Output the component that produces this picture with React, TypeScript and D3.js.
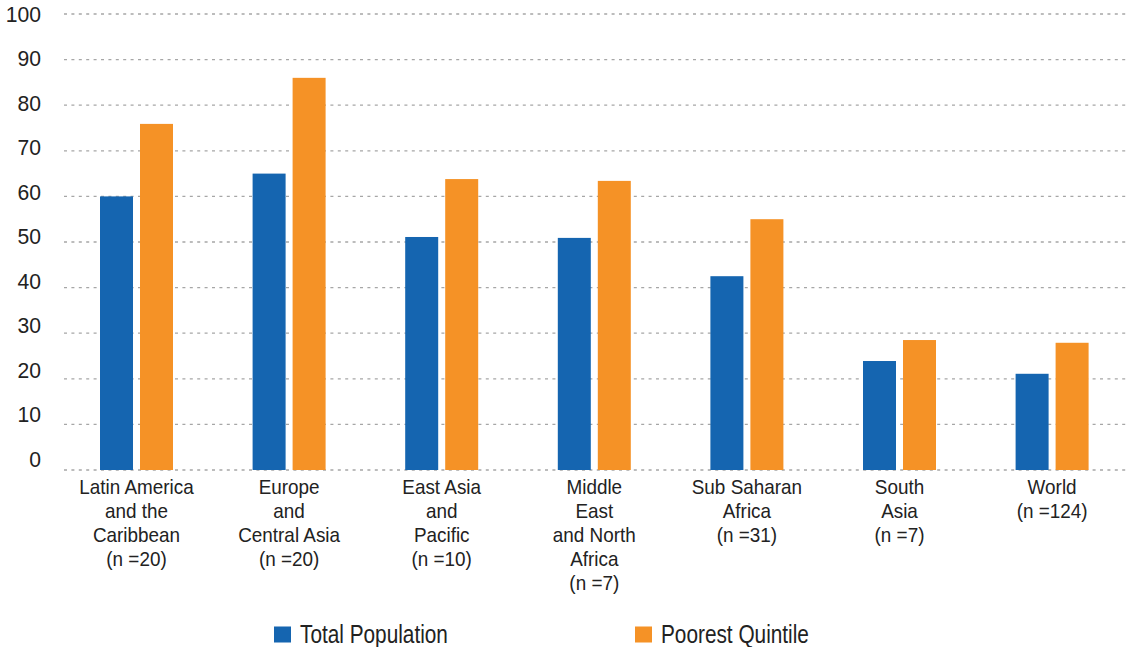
import React from "react";
import * as d3 from "d3";

// Regions with their multi-line axis labels
const categories = [
  "Latin America",
  "Europe",
  "East Asia",
  "Middle East",
  "Sub Saharan",
  "South Asia",
  "World",
];
const categoryLabels: string[][] = [
  ["Latin America", "and the", "Caribbean", "(n =20)"],
  ["Europe", "and", "Central Asia", "(n =20)"],
  ["East Asia", "and", "Pacific", "(n =10)"],
  ["Middle", "East", "and North", "Africa", "(n =7)"],
  ["Sub Saharan", "Africa", "(n =31)"],
  ["South", "Asia", "(n =7)"],
  ["World", "(n =124)"],
];

const seriesNames = ["Total Population", "Poorest Quintile"];
const totalPopulation = [60, 65, 51.1, 50.9, 42.5, 23.9, 21.1];
const poorestQuintile = [75.9, 86, 63.8, 63.4, 55, 28.5, 27.9];

const yTicks = [0, 10, 20, 30, 40, 50, 60, 70, 80, 90, 100];

const COLORS = ["#1565B0", "#F59226"];
const TEXT = "#222222";
const FONT = "'Liberation Sans', Arial, sans-serif";

const W = 1127;
const H = 647;

export default function App() {
  const y = d3.scaleLinear().domain([0, 100]).range([470, 14]);
  // tick labels sit on a slightly tighter spacing than the grid
  const yLabel = d3.scaleLinear().domain([0, 100]).range([458.5, 14]);

  const x0 = d3.scaleBand<string>().domain(categories).range([60.2, 1128.4]).padding(0);
  const x1 = d3.scaleBand<string>().domain(seriesNames).range([0, 73]).paddingInner(0.175);
  const groupOffset = (x0.bandwidth() - 73) / 2;

  const values = [totalPopulation, poorestQuintile];

  return (
    <svg
      width={W}
      height={H}
      style={{ position: "absolute", left: 0, top: 0, background: "#fff" }}
      fontFamily={FONT}
    >
      {/* horizontal dashed grid */}
      {yTicks.map((t) => (
        <line
          key={`g${t}`}
          x1={64}
          x2={W}
          y1={y(t)}
          y2={y(t)}
          stroke="#a6a6a6"
          strokeWidth={1.3}
          strokeDasharray="3,4.4"
        />
      ))}

      {/* y tick labels */}
      {yTicks.map((t) => (
        <g key={`l${t}`} transform={`translate(41,${yLabel(t) + 8}) scale(0.96,1)`}>
          <text x={0} y={0} textAnchor="end" fontSize={22} fill={TEXT}>
            {t}
          </text>
        </g>
      ))}

      {/* bars */}
      {categories.map((c, i) => (
        <g key={c} transform={`translate(${(x0(c) ?? 0) + groupOffset},0)`}>
          {seriesNames.map((s, j) => (
            <rect
              key={s}
              x={x1(s)}
              y={y(values[j][i])}
              width={x1.bandwidth()}
              height={y(0) - y(values[j][i])}
              fill={COLORS[j]}
            />
          ))}
        </g>
      ))}

      {/* category labels */}
      {categories.map((c, i) => {
        const cx = (x0(c) ?? 0) + x0.bandwidth() / 2;
        return (
          <g key={`c${c}`} transform={`translate(${cx},0) scale(0.9,1)`}>
            {categoryLabels[i].map((line, k) => (
              <text
                key={k}
                x={0}
                y={494 + k * 24}
                textAnchor="middle"
                fontSize={21}
                fill={TEXT}
              >
                {line}
              </text>
            ))}
          </g>
        );
      })}

      {/* legend */}
      {seriesNames.map((s, j) => {
        const lx = [274, 635][j];
        return (
          <g key={`lg${s}`}>
            <rect x={lx} y={626.5} width={17} height={16} fill={COLORS[j]} />
            <g transform={`translate(${lx + 26},642.5) scale(0.8,1)`}>
              <text x={0} y={0} fontSize={26} fill={TEXT}>
                {s}
              </text>
            </g>
          </g>
        );
      })}
    </svg>
  );
}
